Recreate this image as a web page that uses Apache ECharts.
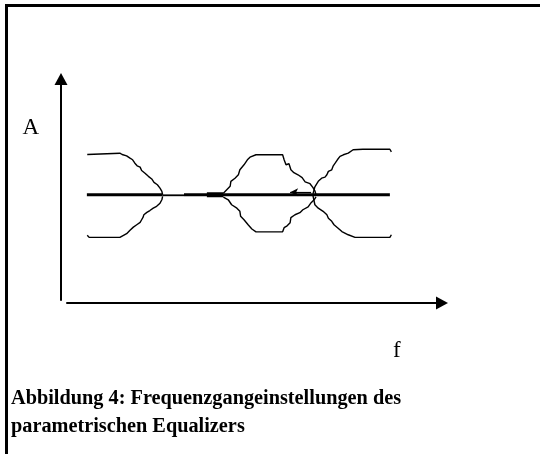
<!DOCTYPE html>
<html>
<head>
<meta charset="utf-8">
<script src="https://cdn.jsdelivr.net/npm/echarts@6.0.0/dist/echarts.min.js"></script>
<style>
  html, body { margin: 0; padding: 0; background: #fff; }
  #chart { width: 540px; height: 454px; }
</style>
</head>
<body>
<div id="chart"></div>
<script>
// Axis captions and figure caption
const yAxisTitle = 'A';
const xAxisTitle = 'f';
const captionLines = ['Abbildung 4: Frequenzgangeinstellungen des', 'parametrischen Equalizers'];

// Frequency (0..100, arbitrary units) vs. gain (dB-like units)
// Low shelf: boost and cut variants
const lowShelfUpper = [[5.4,15.3],[5.9,15.8],[14.1,15.8],[14.7,15.3],[15.9,14.8],[16.8,13.9],[17.5,13.3],[18.1,12.0],[18.7,11.0],[19.5,10.5],[19.9,9.2],[20.8,8.2],[21.7,7.0],[22.6,6.0],[23.2,4.7],[24.1,3.8],[24.8,2.5],[25.3,1.3],[25.5,0]];
const lowShelfLower = [[5.4,-15.4],[5.9,-16.2],[14.1,-16.2],[14.6,-15.8],[15.9,-14.8],[16.8,-13.5],[17.7,-12.3],[18.6,-11.4],[19.5,-10.5],[19.9,-9.5],[20.3,-8.5],[20.5,-7.6],[21.3,-6.7],[22.1,-6.0],[23.0,-5.1],[23.9,-4.4],[24.8,-3.2],[25.3,-1.9],[25.5,-0.6]];

// Peak / notch band in the middle
const peakUpper = [[41.7,0.6],[42.6,1.9],[43.5,3.2],[43.7,5.1],[44.8,6.3],[45.7,7.6],[46.1,9.5],[47.2,11.4],[48.1,13.3],[48.8,14.3],[50.4,15.2],[57.5,15.2],[57.9,13.3],[58.4,11.4],[59.2,11.8],[59.7,9.5],[60.5,8.4],[61.6,7.6],[62.7,6.5],[63.5,4.9],[64.8,4.2],[65.6,2.7],[66.1,1.5],[66.4,0]];
const peakLower = [[41.7,-0.9],[43.0,-1.9],[43.9,-3.8],[45.3,-5.1],[46.1,-6.3],[46.3,-8.2],[47.2,-9.5],[48.3,-11.4],[49.3,-13.0],[50.4,-14.1],[57.5,-14.1],[57.9,-12.5],[58.7,-11.8],[59.5,-10.6],[59.7,-8.7],[60.8,-7.6],[62.1,-6.8],[62.9,-5.7],[64.3,-4.6],[65.1,-3.0],[65.9,-1.9],[66.4,-0.8]];

// High shelf: boost and cut variants
const highShelfUpper = [[65.6,0.4],[66.1,3.0],[67.0,5.1],[67.9,6.3],[68.8,6.7],[69.3,7.6],[69.7,8.9],[70.6,9.5],[71.0,11.0],[71.5,12.0],[72.1,13.3],[72.8,14.6],[73.7,15.2],[75.0,15.8],[76.3,17.1],[78.9,17.3],[86.1,17.3],[86.5,16.3]];
const highShelfLower = [[65.6,-0.4],[66.1,-3.8],[67.0,-5.1],[68.3,-6.3],[69.3,-7.6],[69.7,-8.9],[70.6,-10.1],[71.2,-11.4],[72.3,-12.7],[73.3,-14.0],[75.0,-15.2],[76.8,-16.2],[86.1,-16.2],[86.5,-15.2]];

// Flat (neutral) response, drawn in pieces
const flatLeft = [[5.3,0],[25.5,0]];
const flatThin = [[25.5,-0.2],[31.2,-0.2]];
const flatRight = [[31.2,0],[86.1,0]];
const flatMarker = [[37.3,0],[41.7,0]];

// Small arrow showing the shift of the centre frequency
const shiftArrow = [[65.1,1.0],[59.5,1.0]];

const chart = echarts.init(document.getElementById('chart'), null, { renderer: 'canvas' });

function curve(data, width) {
  return {
    type: 'line',
    data: data,
    symbol: 'none',
    silent: true,
    animation: false,
    lineStyle: { color: '#000', width: width }
  };
}

const flatRightSeries = curve(flatRight, 3.2);
flatRightSeries.markLine = {
  silent: true,
  animation: false,
  symbol: ['none', 'arrow'],
  symbolSize: [6, 8],
  label: { show: false },
  lineStyle: { color: '#000', width: 1.2, type: 'solid' },
  data: [[{ coord: shiftArrow[0] }, { coord: shiftArrow[1] }]]
};

const serif = '"Liberation Serif", "Times New Roman", serif';

chart.setOption({
  backgroundColor: '#fff',
  animation: false,
  title: {
    text: captionLines.join('\n'),
    left: 11,
    top: 385,
    padding: 0,
    textStyle: {
      fontFamily: serif,
      fontWeight: 'bold',
      fontSize: 20.3,
      lineHeight: 28,
      color: '#000'
    }
  },
  grid: {
    left: 67,
    right: 98,
    top: 79,
    bottom: 154,
    containLabel: false,
    outerBoundsMode: 'none'
  },
  xAxis: {
    type: 'value',
    min: 0,
    max: 100,
    offset: 3,
    name: xAxisTitle,
    nameLocation: 'end',
    nameGap: -49,
    nameMoveOverlap: false,
    nameTextStyle: {
      fontFamily: serif,
      fontSize: 23,
      color: '#000',
      align: 'left',
      verticalAlign: 'top',
      padding: [36, 0, 0, 0]
    },
    axisLine: {
      show: true,
      onZero: false,
      symbol: ['none', 'triangle'],
      symbolSize: [13, 12],
      lineStyle: { color: '#000', width: 2 }
    },
    axisTick: { show: false },
    axisLabel: { show: false },
    splitLine: { show: false }
  },
  yAxis: {
    type: 'value',
    min: -40,
    max: 44,
    offset: 6,
    name: yAxisTitle,
    nameLocation: 'end',
    nameGap: -49,
    nameMoveOverlap: false,
    nameTextStyle: {
      fontFamily: serif,
      fontSize: 23,
      color: '#000',
      align: 'right',
      verticalAlign: 'middle',
      padding: [0, 22, 0, 0]
    },
    axisLine: {
      show: true,
      onZero: false,
      symbol: ['none', 'triangle'],
      symbolSize: [13, 12],
      lineStyle: { color: '#000', width: 2 }
    },
    axisTick: { show: false },
    axisLabel: { show: false },
    splitLine: { show: false }
  },
  graphic: [{
    type: 'polyline',
    silent: true,
    shape: { points: [[6.5, 454], [6.5, 5.5], [540, 5.5]] },
    style: { stroke: '#000', lineWidth: 3, fill: null }
  }],
  series: [
    curve(lowShelfUpper, 1.4),
    curve(lowShelfLower, 1.4),
    curve(peakUpper, 1.4),
    curve(peakLower, 1.4),
    curve(highShelfUpper, 1.4),
    curve(highShelfLower, 1.4),
    curve(flatLeft, 3.2),
    curve(flatThin, 1.8),
    flatRightSeries,
    curve(flatMarker, 5)
  ]
});
</script>
</body>
</html>
